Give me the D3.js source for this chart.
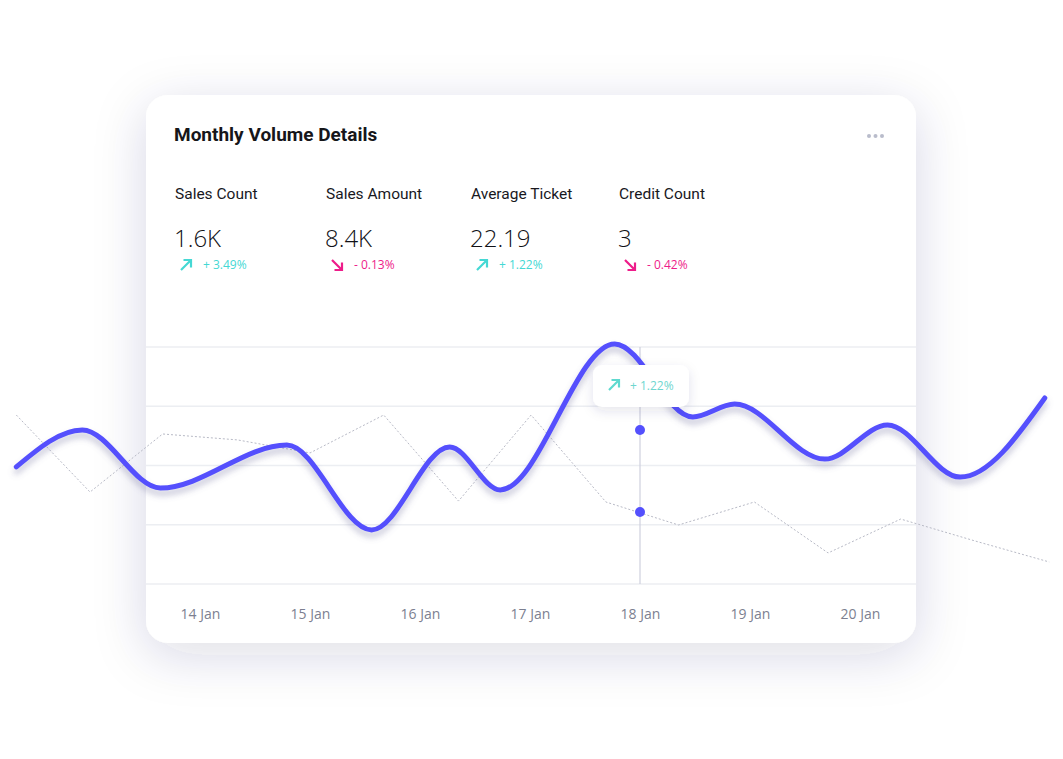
<!DOCTYPE html>
<html>
<head>
<meta charset="utf-8">
<script src="https://cdn.jsdelivr.net/npm/d3@7"></script>
<style>
  html, body { margin: 0; padding: 0; background: #ffffff; }
  svg { display: block; }
</style>
</head>
<body>
<div id="chart"></div>
<script>
// ---------- DATA ----------
const title = "Monthly Volume Details";
const statLabels = ["Sales Count", "Sales Amount", "Average Ticket", "Credit Count"];
const statValues = ["1.6K", "8.4K", "22.19", "3"];
const statChanges = ["+ 3.49%", "- 0.13%", "+ 1.22%", "- 0.42%"];
const statUp = [true, false, true, false];

const dayTicks = [14, 15, 16, 17, 18, 19, 20];
const dayLabels = ["14 Jan", "15 Jan", "16 Jan", "17 Jan", "18 Jan", "19 Jan", "20 Jan"];
const gridValues = [0, 25, 50, 75, 100];

// main smooth series (day position, value)
const mainDays   = [12.33, 12.93, 13.64, 14.79, 15.56, 16.27, 16.73, 17.77, 18.48, 18.86, 19.68, 20.25, 20.91, 21.68];
const mainValues = [49.4,  65.0,  40.5,  58.6,  22.8,  57.8,  39.7,  101.3, 70.5,  75.9,  52.7,  67.1,  45.1,  78.5];

// comparison dotted series
const compDays   = [12.33, 13.0, 13.66, 14.34, 15.0, 15.67, 16.35, 17.01, 17.69, 18.35, 19.04, 19.71, 20.37, 21.05, 21.72];
const compValues = [71.3,  38.8, 63.3,  60.8,  55.3, 71.3,  35.0,  71.3,  34.6,  24.9,  34.6,  13.1,  27.4,  18.1,  9.3];

// highlighted day with markers and tooltip
const focusDay = 18;
const focusValues = [65.0, 30.4];
const focusChange = "+ 1.22%";

// ---------- LAYOUT ----------
const W = 1063, H = 759;
const card = { x: 146, y: 95, w: 770, h: 548, r: 22 };
const UP = "#45d8d4", DOWN = "#ee1c8a", LINE = "#5450fd";

const x = d3.scaleLinear().domain([14, 20]).range([200, 860]);
const y = d3.scaleLinear().domain([0, 100]).range([584, 347]);

const svg = d3.select("#chart").append("svg").attr("width", W).attr("height", H);
const defs = svg.append("defs");

const cardShadow = defs.append("filter").attr("id", "cardShadow")
  .attr("x", "-20%").attr("y", "-25%").attr("width", "140%").attr("height", "155%");
cardShadow.append("feDropShadow").attr("dx", 0).attr("dy", 12).attr("stdDeviation", 26)
  .attr("flood-color", "#283264").attr("flood-opacity", 0.16);

const lineShadow = defs.append("filter").attr("id", "lineShadow")
  .attr("x", "-5%").attr("y", "-30%").attr("width", "110%").attr("height", "160%");
lineShadow.append("feDropShadow").attr("dx", 0).attr("dy", 5).attr("stdDeviation", 3)
  .attr("flood-color", "#6a6a9a").attr("flood-opacity", 0.4);

const tipShadow = defs.append("filter").attr("id", "tipShadow")
  .attr("x", "-40%").attr("y", "-60%").attr("width", "180%").attr("height", "240%");
tipShadow.append("feDropShadow").attr("dx", 0).attr("dy", 4).attr("stdDeviation", 6)
  .attr("flood-color", "#283264").attr("flood-opacity", 0.12);

// card
svg.append("rect").attr("x", card.x).attr("y", card.y).attr("width", card.w).attr("height", card.h)
  .attr("rx", card.r).attr("fill", "#ffffff").attr("filter", "url(#cardShadow)");

// title
svg.append("text").attr("x", 174).attr("y", 141).text(title)
  .attr("font-family", "Roboto, sans-serif").attr("font-weight", 700).attr("font-size", 19)
  .attr("fill", "#16161a");

// more dots
svg.selectAll("circle.more").data([0, 1, 2]).enter().append("circle")
  .attr("cx", d => 869 + d * 6.5).attr("cy", 136).attr("r", 2).attr("fill", "#b9bccb");

// arrow icon
function arrow(g, up, color, size) {
  const s = size;
  const p = up
    ? `M0,${s} L${s},0 M${s * 0.25},0 L${s},0 L${s},${s * 0.75}`
    : `M0,0 L${s},${s} M${s * 0.25},${s} L${s},${s} L${s},${s * 0.25}`;
  g.append("path").attr("d", p).attr("fill", "none").attr("stroke", color)
    .attr("stroke-width", 2.2).attr("stroke-linecap", "butt");
}

// stats
const statX = [175, 326, 471, 619];
statLabels.forEach((lab, i) => {
  const g = svg.append("g").attr("transform", `translate(${statX[i]},0)`);
  g.append("text").attr("x", 0).attr("y", 199).text(lab)
    .attr("font-family", "Roboto, sans-serif").attr("font-weight", 400).attr("font-size", 15.5)
    .attr("fill", "#18181e");
  g.append("text").attr("x", -1).attr("y", 247).text(statValues[i])
    .attr("font-family", "'Open Sans', sans-serif").attr("font-weight", 300).attr("font-size", 24)
    .attr("fill", "#111116");
  const col = statUp[i] ? UP : DOWN;
  const a = g.append("g").attr("transform", "translate(6,260)");
  arrow(a, statUp[i], col, 10);
  g.append("text").attr("x", 28).attr("y", 269).text(statChanges[i])
    .attr("font-family", "'Open Sans', sans-serif").attr("font-size", 12).attr("fill", col);
});

// gridlines
svg.append("g").selectAll("line").data(gridValues).enter().append("line")
  .attr("x1", card.x).attr("x2", card.x + card.w)
  .attr("y1", d => y(d)).attr("y2", d => y(d))
  .attr("stroke", "#eceef2").attr("stroke-width", 1.3);

// x axis labels
const xAxis = d3.axisBottom(x).tickValues(dayTicks).tickFormat((d, i) => dayLabels[i]).tickSize(0).tickPadding(0);
const axG = svg.append("g").attr("transform", "translate(0,609)").call(xAxis);
axG.select(".domain").remove();
axG.selectAll("text").attr("font-family", "'Open Sans', sans-serif").attr("font-size", 14)
  .attr("fill", "#7c7f90").attr("letter-spacing", 0);

// focus vertical line
svg.append("line").attr("x1", x(focusDay)).attr("x2", x(focusDay))
  .attr("y1", y(100)).attr("y2", y(0)).attr("stroke", "#cfd0de").attr("stroke-width", 1.2);

// comparison dotted line
const compData = compDays.map((d, i) => [d, compValues[i]]);
svg.append("path").datum(compData)
  .attr("d", d3.line().x(d => x(d[0])).y(d => y(d[1])))
  .attr("fill", "none").attr("stroke", "#b8bac6").attr("stroke-width", 1)
  .attr("stroke-dasharray", "2,2");

// main smooth line
const mainData = mainDays.map((d, i) => [d, mainValues[i]]);
svg.append("path").datum(mainData)
  .attr("d", d3.line().x(d => x(d[0])).y(d => y(d[1])).curve(d3.curveMonotoneX))
  .attr("fill", "none").attr("stroke", LINE).attr("stroke-width", 5)
  .attr("stroke-linecap", "round").attr("filter", "url(#lineShadow)");

// focus markers
svg.selectAll("circle.focus").data(focusValues).enter().append("circle")
  .attr("cx", x(focusDay)).attr("cy", d => y(d)).attr("r", 5).attr("fill", LINE);

// tooltip
const tip = svg.append("g").attr("transform", `translate(${x(focusDay) - 47},365)`);
tip.append("rect").attr("width", 96).attr("height", 42).attr("rx", 9)
  .attr("fill", "#ffffff").attr("filter", "url(#tipShadow)");
const ta = tip.append("g").attr("transform", "translate(16,15)");
arrow(ta, true, "#5fd9cf", 10);
tip.append("text").attr("x", 37).attr("y", 24.5).text(focusChange)
  .attr("font-family", "'Open Sans', sans-serif").attr("font-size", 12).attr("fill", "#6fd6cf");
</script>
</body>
</html>
